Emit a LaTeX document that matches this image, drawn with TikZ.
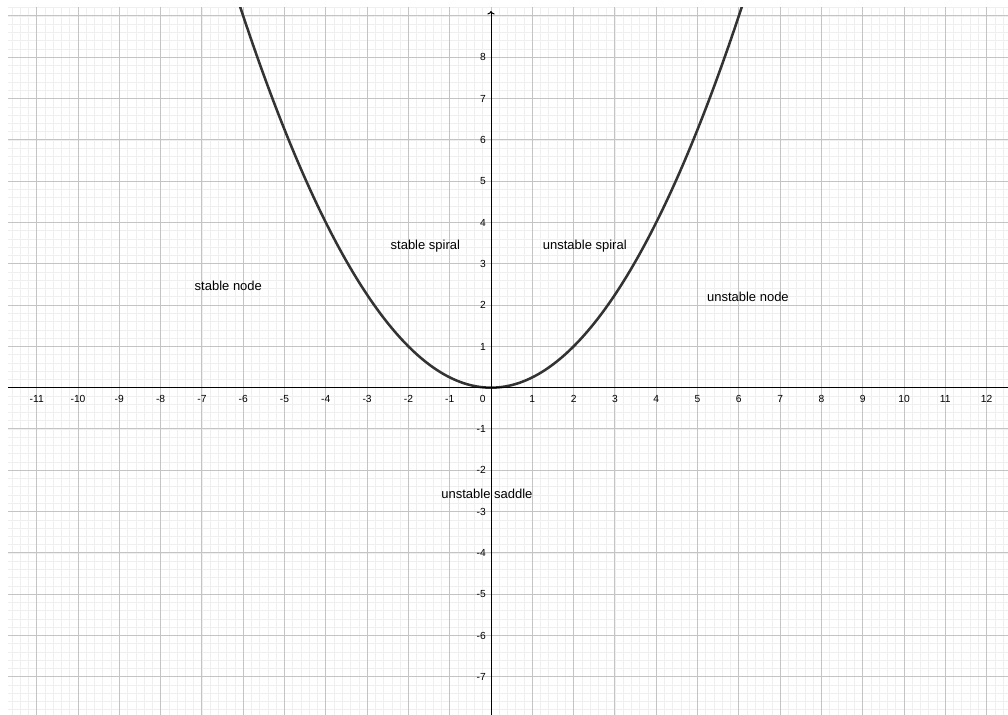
\documentclass[tikz,border=0pt]{standalone}
\usepackage{fontspec}
\setmainfont{Liberation Sans}
\usetikzlibrary{arrows.meta}
\definecolor{minorgrid}{HTML}{EFEFEF}
\definecolor{majorgrid}{HTML}{C4C4C4}
\definecolor{curvecol}{HTML}{333333}
\begin{document}
\begin{tikzpicture}[x=30.975pt,y=30.975pt,
  ticklab/.style={font=\fontsize{7.7pt}{8pt}\selectfont, inner sep=0pt},
  regionlab/.style={font=\fontsize{9.75pt}{11pt}\selectfont, inner sep=0pt},
  axisline/.style={black, line width=0.75pt},
  curveline/.style={curvecol, line width=1.9pt}]
\useasboundingbox (-11.889,-7.925) rectangle (12.518,9.387);
\begin{scope}
\clip (-11.695,-7.925) rectangle (12.518,9.194);
\draw[minorgrid, line width=0.5pt, step=0.2] (-12,-8) grid (13,10);
\draw[majorgrid, line width=0.75pt, step=1] (-12,-8) grid (13,10);
\draw[curveline, domain=-6.2:6.2, samples=200, smooth] plot (\x,{\x*\x/4});
\end{scope}
\coordinate (xl) at (-11.695,0);
\coordinate (xr) at (12.518,0);
\coordinate (yb) at (0,-7.925);
\coordinate (yt) at (0,9.12);
\draw[axisline] (xl) -- (xr);
\draw[axisline,-{To[length=2.6pt,width=5.5pt]}] (yb) -- (yt);
\foreach \i in {-11,...,-1,1,2,...,12} {
  \node[ticklab, anchor=base] (xt\i) at (\i,-0.349) {\i};
}
\node[ticklab, anchor=base] (x0) at (-0.2,-0.349) {0};
\foreach \j in {-7,...,-1,1,2,...,8} {
  \node[ticklab, anchor=base east] (yt\j) at (-0.12,\j-0.089) {\j};
}
\node[regionlab] (sn) at (-6.36,2.47) {stable node};
\node[regionlab] (ss) at (-1.59,3.43) {stable spiral};
\node[regionlab] (us) at (2.27,3.43) {unstable spiral};
\node[regionlab] (un) at (6.22,2.20) {unstable node};
\node[regionlab] (usd) at (-0.10,-2.56) {unstable saddle};
\end{tikzpicture}
\end{document}
